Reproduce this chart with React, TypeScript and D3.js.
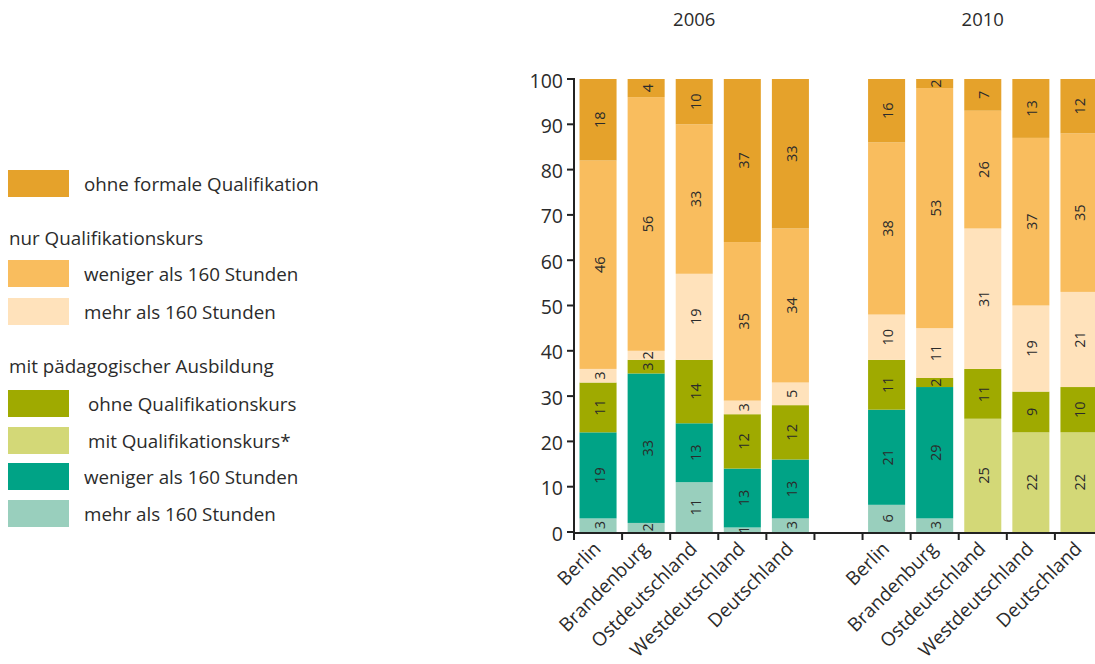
import { useEffect, useRef } from 'react';
import * as d3 from 'd3';

const regions = ['Berlin', 'Brandenburg', 'Ostdeutschland', 'Westdeutschland', 'Deutschland'];
const years = ['2006', '2010'];
const yTicks = [0, 10, 20, 30, 40, 50, 60, 70, 80, 90, 100];

// series, bottom to top of the stack; order: 2006 regions then 2010 regions
const mehrPaed = [3, 2, 11, 1, 3, 6, 3, 0, 0, 0];
const wenigerPaed = [19, 33, 13, 13, 13, 21, 29, 0, 0, 0];
const mitKurs = [0, 0, 0, 0, 0, 0, 0, 25, 22, 22];
const ohneKurs = [11, 3, 14, 12, 12, 11, 2, 11, 9, 10];
const mehrNur = [3, 2, 19, 3, 5, 10, 11, 31, 19, 21];
const wenigerNur = [46, 56, 33, 35, 34, 38, 53, 26, 37, 35];
const ohneFormal = [18, 4, 10, 37, 33, 16, 2, 7, 13, 12];

const seriesKeys = ['mehrPaed', 'wenigerPaed', 'mitKurs', 'ohneKurs', 'mehrNur', 'wenigerNur', 'ohneFormal'];
const seriesValues = [mehrPaed, wenigerPaed, mitKurs, ohneKurs, mehrNur, wenigerNur, ohneFormal];
const colors = ['#99cfbd', '#00a386', '#d3d877', '#9faa00', '#ffe2bb', '#f9bd5e', '#e5a22b'];

const legendItems = [
	{ type: 'item', color: '#e5a22b', label: 'ohne formale Qualifikation', dx: 0 },
	{ type: 'head', label: 'nur Qualifikationskurs' },
	{ type: 'item', color: '#f9bd5e', label: 'weniger als 160 Stunden', dx: 0 },
	{ type: 'item', color: '#ffe2bb', label: 'mehr als 160 Stunden', dx: 0 },
	{ type: 'head', label: 'mit pädagogischer Ausbildung' },
	{ type: 'item', color: '#9faa00', label: 'ohne Qualifikationskurs', dx: 4 },
	{ type: 'item', color: '#d3d877', label: 'mit Qualifikationskurs*', dx: 4 },
	{ type: 'item', color: '#00a386', label: 'weniger als 160 Stunden', dx: 0 },
	{ type: 'item', color: '#99cfbd', label: 'mehr als 160 Stunden', dx: 0 },
];
const legendY = [184, 238, 274, 312, 366, 404, 441, 477, 514];

const font = '"Open Sans", "Noto Sans", sans-serif';
const textColor = '#2b2b2b';

export default function App() {
	const ref = useRef<SVGSVGElement | null>(null);

	useEffect(() => {
		if (!ref.current) return;
		const svg = d3.select(ref.current);
		svg.selectAll('*').remove();

		const left = 574;
		const right = 1103;
		const top = 79;
		const bottom = 532;

		const keys: string[] = [];
		years.forEach((yr, yi) => {
			regions.forEach(r => keys.push(`${yr}-${r}`));
			if (yi === 0) keys.push('gap');
		});
		const barKeys = keys.filter(k => k !== 'gap');

		const x = d3.scaleBand<string>().domain(keys).range([left, right]).paddingInner(0.23).paddingOuter(0.115);
		const y = d3.scaleLinear().domain([0, 100]).range([bottom, top]);

		const rows = barKeys.map((k, i) => {
			const row: any = { key: k };
			seriesKeys.forEach((s, si) => (row[s] = seriesValues[si][i]));
			return row;
		});
		const stacked = d3.stack<any>().keys(seriesKeys)(rows);

		const g = svg.append('g').style('font-family', font);

		stacked.forEach((layer, li) => {
			const lg = g.append('g');
			layer.forEach(d => {
				const v = d[1] - d[0];
				if (v <= 0) return;
				const y0 = y(d[0]);
				const y1 = y(Math.min(d[1], 100));
				const xc = x(d.data.key)! + x.bandwidth() / 2;
				lg.append('rect')
					.attr('x', x(d.data.key)!)
					.attr('width', x.bandwidth())
					.attr('y', y1)
					.attr('height', y0 - y1)
					.attr('fill', colors[li]);
				lg.append('text')
					.attr('transform', `translate(${xc + 1}, ${(y0 + y1) / 2}) rotate(-90)`)
					.attr('text-anchor', 'middle')
					.attr('dominant-baseline', 'central')
					.style('font-size', '14.5px')
					.style('fill', textColor)
					.text(v);
			});
		});

		// y axis
		const yAxis = g.append('g');
		yAxis.append('line')
			.attr('x1', left).attr('x2', left)
			.attr('y1', y(100) - 1).attr('y2', bottom + 1)
			.attr('stroke', '#222').attr('stroke-width', 2);
		yTicks.forEach(t => {
			yAxis.append('line')
				.attr('x1', left - 7).attr('x2', left)
				.attr('y1', y(t)).attr('y2', y(t))
				.attr('stroke', '#222').attr('stroke-width', 2);
			yAxis.append('text')
				.attr('x', left - 11)
				.attr('y', y(t) + 1)
				.attr('text-anchor', 'end')
				.attr('dominant-baseline', 'central')
				.style('font-size', '19.5px')
				.style('fill', textColor)
				.text(t);
		});

		// x axis
		const xAxis = g.append('g');
		xAxis.append('line')
			.attr('x1', left).attr('x2', right)
			.attr('y1', bottom + 1).attr('y2', bottom + 1)
			.attr('stroke', '#222').attr('stroke-width', 2);
		d3.range(keys.length + 1).forEach(i => {
			const tx = left + i * x.step();
			xAxis.append('line')
				.attr('x1', tx).attr('x2', tx)
				.attr('y1', bottom).attr('y2', bottom + 8)
				.attr('stroke', '#222').attr('stroke-width', 2);
		});
		barKeys.forEach(k => {
			const xc = x(k)! + x.bandwidth() / 2;
			xAxis.append('text')
				.attr('transform', `translate(${xc - 1}, ${bottom + 13}) rotate(-45)`)
				.attr('text-anchor', 'end')
				.attr('dominant-baseline', 'central')
				.style('font-size', '19px')
				.style('fill', textColor)
				.text(k.split('-')[1]);
		});

		// year headings
		years.forEach(yr => {
			const ks = barKeys.filter(k => k.startsWith(yr));
			const x0 = x(ks[0])! - (x.step() - x.bandwidth()) / 2;
			const x1 = x(ks[ks.length - 1])! + x.bandwidth() + (x.step() - x.bandwidth()) / 2;
			g.append('text')
				.attr('x', (x0 + x1) / 2)
				.attr('y', 18)
				.attr('text-anchor', 'middle')
				.attr('dominant-baseline', 'central')
				.style('font-size', '18.5px')
				.style('fill', textColor)
				.text(yr);
		});

		// legend
		const leg = g.append('g');
		legendItems.forEach((it, i) => {
			const cy = legendY[i];
			if (it.type === 'head') {
				leg.append('text')
					.attr('x', 9)
					.attr('y', cy)
					.attr('dominant-baseline', 'central')
					.style('font-size', '18.8px')
					.style('fill', textColor)
					.text(it.label);
			} else {
				leg.append('rect')
					.attr('x', 8).attr('y', cy - 14)
					.attr('width', 61).attr('height', 27)
					.attr('fill', it.color!);
				leg.append('text')
					.attr('x', 84 + (it.dx || 0))
					.attr('y', cy)
					.attr('dominant-baseline', 'central')
					.style('font-size', '18.8px')
					.style('fill', textColor)
					.text(it.label);
			}
		});
	}, []);

	return (
		<svg
			ref={ref}
			width={1095}
			height={664}
			style={{ position: 'absolute', left: 0, top: 0, background: '#fff' }}
		/>
	);
}
